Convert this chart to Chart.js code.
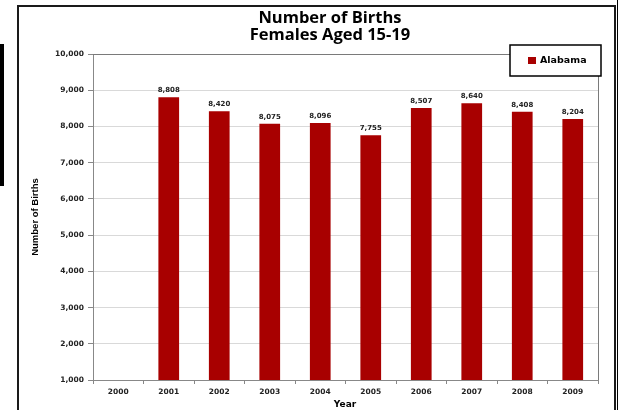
<!DOCTYPE html>
<html>
<head>
<meta charset="utf-8">
<script src="https://cdn.jsdelivr.net/npm/chart.js@4/dist/chart.umd.min.js"></script>
<style>
html,body{margin:0;padding:0;background:#fff;}
canvas{display:block;}
</style>
</head>
<body>
<canvas id="c" width="618" height="410"></canvas>
<script>
const years = ['2000','2001','2002','2003','2004','2005','2006','2007','2008','2009'];
const births = [null, 8808, 8420, 8075, 8096, 7755, 8507, 8640, 8408, 8204];
const seriesName = 'Alabama';
const titleLines = ['Number of Births', 'Females Aged 15-19'];
const yTitle = 'Number of Births';
const xTitle = 'Year';

const BAR = '#A80000';
const fmt = v => v.toLocaleString('en-US');

const deco = {
  id: 'deco',
  beforeDraw(chart) {
    const ctx = chart.ctx;
    ctx.save();
    ctx.fillStyle = '#fff';
    ctx.fillRect(0, 0, chart.width, chart.height);
    ctx.restore();
  },
  afterDraw(chart) {
    const ctx = chart.ctx;
    const a = chart.chartArea;
    ctx.save();
    // plot border top/right
    ctx.strokeStyle = '#7a7a7a';
    ctx.lineWidth = 1;
    ctx.beginPath();
    ctx.moveTo(a.left, a.top + 0.5);
    ctx.lineTo(a.right + 0.5, a.top + 0.5);
    ctx.lineTo(a.right + 0.5, a.bottom);
    ctx.stroke();

    // data labels
    const meta = chart.getDatasetMeta(0);
    ctx.fillStyle = '#222';
    ctx.font = 'bold 7px "DejaVu Sans"';
    ctx.textAlign = 'center';
    ctx.textBaseline = 'alphabetic';
    meta.data.forEach((bar, i) => {
      const v = births[i];
      if (v == null) return;
      ctx.fillText(fmt(v), bar.x, bar.y - 5);
    });

    // title
    ctx.fillStyle = '#000';
    ctx.font = 'bold 16.5px "Open Sans"';
    ctx.textBaseline = 'middle';
    ctx.fillText(titleLines[0], 330, 18);
    ctx.fillText(titleLines[1], 330, 35);

    // x title
    ctx.font = 'bold 9px "DejaVu Sans"';
    ctx.fillText(xTitle, 345, 405);

    // y title
    ctx.save();
    ctx.translate(35, 217);
    ctx.rotate(-Math.PI / 2);
    ctx.font = 'bold 9.5px "Liberation Sans Narrow", "Liberation Sans"';
    ctx.fillText(yTitle, 0, 0);
    ctx.restore();

    // legend
    ctx.fillStyle = '#fff';
    ctx.fillRect(510, 45, 91, 31);
    ctx.strokeStyle = '#000';
    ctx.lineWidth = 1.5;
    ctx.strokeRect(510, 45, 91, 31);
    ctx.fillStyle = BAR;
    ctx.fillRect(528, 57, 8, 7);
    ctx.fillStyle = '#000';
    ctx.font = 'bold 9.5px "DejaVu Sans"';
    ctx.textAlign = 'left';
    ctx.fillText(seriesName, 540, 61);

    // outer frame
    ctx.strokeStyle = '#1a1a1a';
    ctx.lineWidth = 2;
    ctx.beginPath();
    ctx.moveTo(18, 420);
    ctx.lineTo(18, 6);
    ctx.lineTo(615, 6);
    ctx.lineTo(615, 420);
    ctx.stroke();
    ctx.fillStyle = '#000';
    ctx.fillRect(617, 0, 2, 410);
    ctx.fillRect(0, 44, 4, 142);
    ctx.restore();
  }
};

const tickFont = { family: '"DejaVu Sans"', size: 7.5, weight: 'bold' };

new Chart(document.getElementById('c'), {
  type: 'bar',
  data: {
    labels: years,
    datasets: [{
      label: seriesName,
      data: births,
      backgroundColor: BAR,
      borderWidth: 0,
      categoryPercentage: 1,
      barPercentage: 0.41
    }]
  },
  options: {
    responsive: false,
    animation: false,
    devicePixelRatio: 1,
    layout: { padding: { top: 54, right: 20, bottom: 0, left: 0 } },
    plugins: { legend: { display: false }, title: { display: false }, tooltip: { enabled: false } },
    scales: {
      y: {
        min: 1000, max: 10000,
        ticks: { stepSize: 1000, callback: v => fmt(v), font: tickFont, color: '#222', padding: 4 },
        grid: { color: '#d9d9d9', tickColor: '#888', tickLength: 5 },
        border: { color: '#888' },
        afterFit(s) { s.width = 93; }
      },
      x: {
        ticks: { font: tickFont, color: '#222', padding: 4 },
        grid: { offset: true, drawOnChartArea: false, tickColor: '#888', tickLength: 4 },
        border: { color: '#888' },
        afterFit(s) { s.height = 30; }
      }
    }
  },
  plugins: [deco]
});
</script>
</body>
</html>
